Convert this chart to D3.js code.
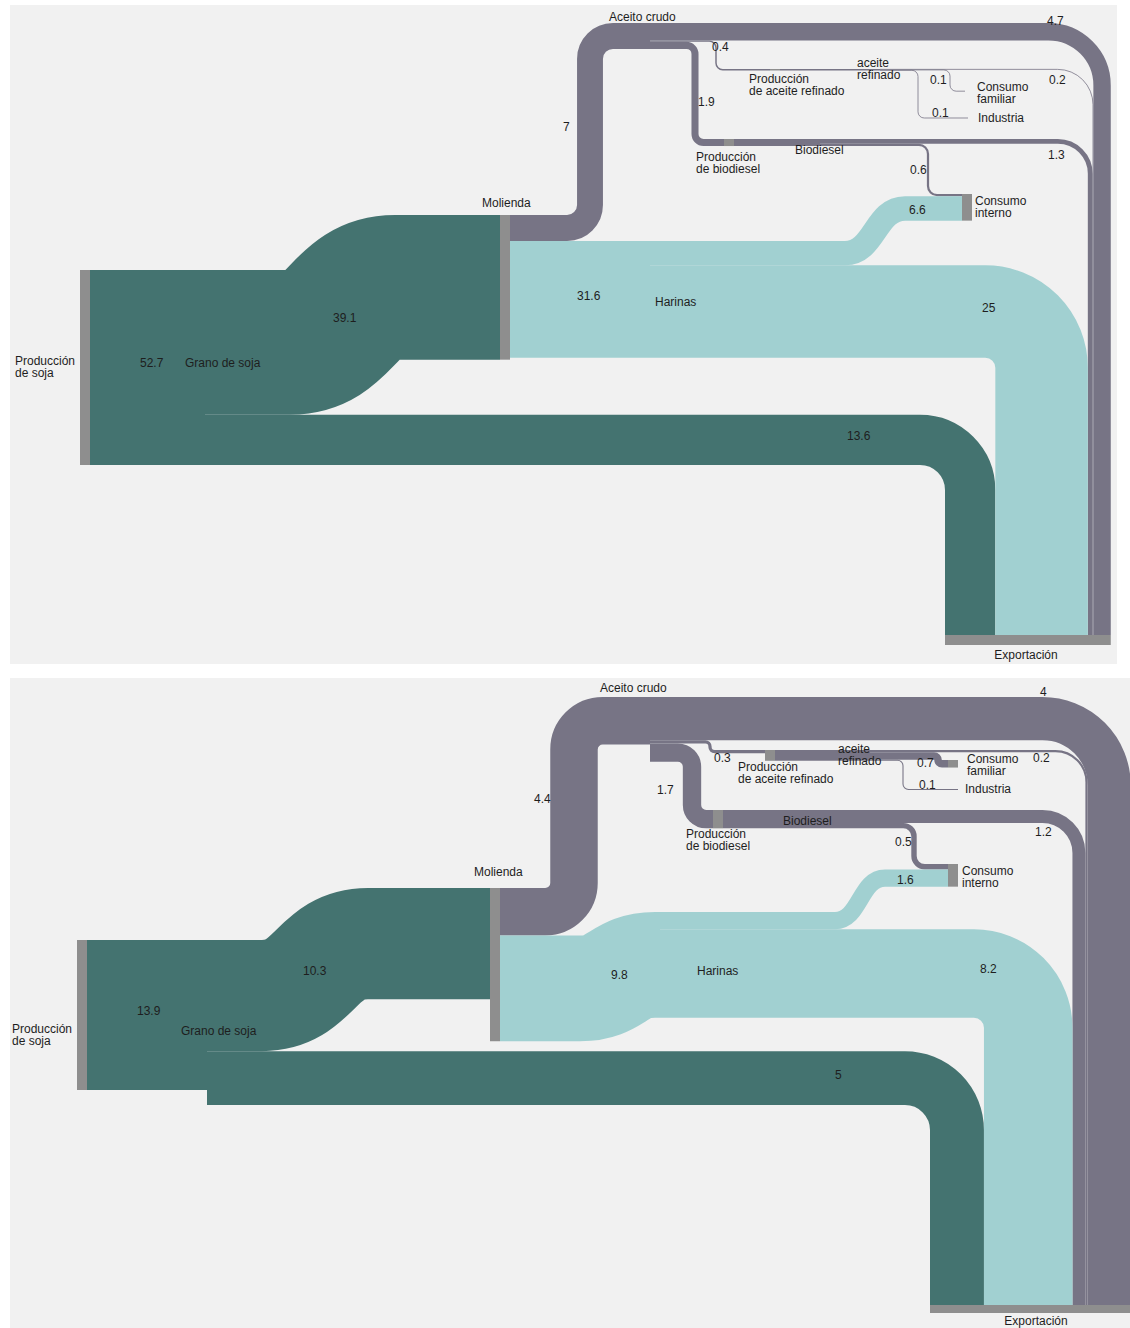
<!DOCTYPE html>
<html lang="es">
<head>
<meta charset="UTF-8">
<title>Complejo sojero - flujos</title>
<script src="https://d3js.org/d3.v7.min.js"></script>
<style>
body { margin: 0; background: #fff; }
svg text { font: 12px "Liberation Sans", Arial, sans-serif; fill: #1e1e1e; }
</style>
</head>
<body>
<svg id="chart" width="1130" height="1328"></svg>
<script>
// ---- data ----
var nodeIds = ["prod", "grano", "molienda", "aceite", "harinas", "prodRef", "refinado",
               "familiar", "industria", "prodBio", "biodiesel", "consumo", "export"];
var nodeNames = ["Producción\nde soja", "Grano de soja", "Molienda", "Aceito crudo", "Harinas",
                 "Producción\nde aceite refinado", "aceite\nrefinado", "Consumo\nfamiliar", "Industria",
                 "Producción\nde biodiesel", "Biodiesel", "Consumo\ninterno", "Exportación"];

var linkSource = ["prod", "grano", "grano", "molienda", "molienda", "aceite", "aceite", "aceite",
                  "prodRef", "refinado", "refinado", "refinado", "prodBio", "biodiesel", "biodiesel",
                  "harinas", "harinas"];
var linkTarget = ["grano", "molienda", "export", "aceite", "harinas", "export", "prodRef", "prodBio",
                  "refinado", "export", "familiar", "industria", "biodiesel", "export", "consumo",
                  "consumo", "export"];
var linkGroup = ["grano", "grano", "grano", "aceite", "harinas", "aceite", "aceite", "aceite",
                 "aceite", "aceite", "aceite", "aceite", "aceite", "aceite", "aceite",
                 "harinas", "harinas"];
// link values, upper and lower diagram
var valuesTop    = [52.7, 39.1, 13.6, 7, 31.6, 4.7, 0.4, 1.9, 0.4, 0.2, 0.1, 0.1, 1.9, 1.3, 0.6, 6.6, 25];
var valuesBottom = [13.9, 10.3, 5, 4.4, 9.8, 4, 0.3, 1.7, 1.0, 0.2, 0.7, 0.1, 1.7, 1.2, 0.5, 1.6, 8.2];
// which link values get a label
var showValue = [1, 1, 1, 1, 1, 1, 1, 1, 0, 1, 1, 1, 0, 1, 1, 1, 1];

var color = { grano: "#447370", harinas: "#a1d0d1", aceite: "#777485" };

// ---- layout of each diagram ----
var panels = [
  {
    values: valuesTop,
    box: [10, 5, 1107, 659],
    scale: [52.7, 195],
    nodes: {
      prod: {x: 80, y: 270, show: true},
      grano: {x: 205},
      molienda: {x: 500, y: 215, show: true},
      aceite: {x: 650, y: 23},
      harinas: {x: 650},
      prodRef: {x: 770, y: 69, show: true},
      refinado: {x: 880},
      familiar: {x: 965, y: 91},
      industria: {x: 968, y: 117.8},
      prodBio: {x: 724, y: 139, show: true},
      biodiesel: {x: 820},
      consumo: {x: 962, y: 194, show: true},
      export: {x: 945, y: 635, horizontal: true, bar: 10, show: true}
    },
    routes: [
      {type: "flat"}, {type: "s", xa: 290, xb: 395}, {type: "down", rin: 25},
      {type: "elbow", xv: 590, rin: 10}, {type: "flat"}, {type: "down", rin: 45},
      {type: "elbow", xv: 716, rin: 6}, {type: "elbow", xv: 695, rin: 5}, {type: "flat"},
      {type: "down", rin: 35}, {type: "elbow", xv: 950, rin: 6}, {type: "elbow", xv: 918, rin: 6},
      {type: "flat"}, {type: "down", rin: 30}, {type: "elbow", xv: 928, rin: 8},
      {type: "s", xa: 845, xb: 905}, {type: "down", rin: 10}
    ],
    valueLabels: [[140, 367], [333, 322], [847, 440], [563, 131], [577, 300], [1047, 25],
                  [712, 51], [698, 106], null, [1049, 84], [930, 84], [932, 117], null,
                  [1048, 159], [910, 174], [909, 214], [982, 312]],
    nodeLabels: {
      prod: [15, 365], grano: [185, 367], molienda: [482, 207], aceite: [609, 21],
      harinas: [655, 306], prodRef: [749, 83], refinado: [857, 67], familiar: [977, 91],
      industria: [978, 122], prodBio: [696, 161], biodiesel: [795, 154], consumo: [975, 205],
      export: [1026, 659, "middle"]
    }
  },
  {
    values: valuesBottom,
    box: [10, 678, 1120, 650],
    scale: [13.9, 150],
    nodes: {
      prod: {x: 77, y: 940, show: true},
      grano: {x: 207},
      molienda: {x: 490, y: 888, show: true},
      aceite: {x: 650, y: 697},
      harinas: {x: 660, y: 912},
      prodRef: {x: 765, y: 750, show: true},
      refinado: {x: 870},
      familiar: {x: 948, y: 760, show: true},
      industria: {x: 958, y: 789},
      prodBio: {x: 713, y: 810, show: true},
      biodiesel: {x: 800},
      consumo: {x: 948, y: 864, show: true},
      export: {x: 930, y: 1305, horizontal: true, bar: 8, show: true}
    },
    routes: [
      {type: "flat"}, {type: "s", xa: 262, xb: 368}, {type: "down", rin: 25},
      {type: "elbow", xv: 574, rin: 5}, {type: "s", xa: 580, xb: 655}, {type: "down", rin: 45},
      {type: "elbow", xv: 710, rin: 3}, {type: "elbow", xv: 692, rin: 5}, {type: "flat"},
      {type: "down", rin: 30}, {type: "elbow", xv: 938, rin: 3}, {type: "elbow", xv: 903, rin: 5},
      {type: "flat"}, {type: "down", rin: 30}, {type: "elbow", xv: 914, rin: 8},
      {type: "s", xa: 835, xb: 885}, {type: "down", rin: 10}
    ],
    valueLabels: [[137, 1015], [303, 975], [835, 1079], [534, 803], [611, 979], [1040, 696],
                  [714, 762], [657, 794], null, [1033, 762], [917, 767], [919, 789], null,
                  [1035, 836], [895, 846], [897, 884], [980, 973]],
    nodeLabels: {
      prod: [12, 1033], grano: [181, 1035], molienda: [474, 876], aceite: [600, 692],
      harinas: [697, 975], prodRef: [738, 771], refinado: [838, 753], familiar: [967, 763],
      industria: [965, 793], prodBio: [686, 838], biodiesel: [783, 825], consumo: [962, 875],
      export: [1036, 1325, "middle"]
    }
  }
];

var svg = d3.select("#chart");

panels.forEach(function(p) {
  var k = d3.scaleLinear().domain([0, p.scale[0]]).range([0, p.scale[1]]);
  var g = svg.append("g");

  g.append("rect")
    .attr("x", p.box[0]).attr("y", p.box[1])
    .attr("width", p.box[2]).attr("height", p.box[3])
    .attr("fill", "#f1f1f1");

  var links = linkSource.map(function(s, i) {
    return {i: i, source: s, target: linkTarget[i], value: p.values[i],
            w: k(p.values[i]), group: linkGroup[i], route: p.routes[i]};
  });

  // place nodes in order, stacking links at each end
  var nodes = {};
  nodeIds.forEach(function(id, j) {
    var L = p.nodes[id];
    var n = {id: id, name: nodeNames[j], x: L.x, y0: L.y, show: L.show,
             horizontal: L.horizontal, bar: L.bar};
    nodes[id] = n;
    var ins = links.filter(function(l) { return l.target === id; });
    var outs = links.filter(function(l) { return l.source === id; });
    n.w = (L.show && !L.horizontal) ? 10 : 0;
    if (n.horizontal) {
      ins.sort(function(a, b) { return b.sy - a.sy; });
      var x = n.x;
      ins.forEach(function(l) { l.tx = x + l.w / 2; x += l.w; });
      n.len = x - n.x;
      return;
    }
    if (L.y == null) n.y0 = ins[0].sy - ins[0].w / 2;
    n.h = k(Math.max(d3.sum(ins, function(l) { return l.value; }),
                     d3.sum(outs, function(l) { return l.value; })));
    var y = n.y0;
    ins.forEach(function(l) { l.ty = y + l.w / 2; y += l.w; });
    y = n.y0;
    outs.forEach(function(l) { l.sy = y + l.w / 2; y += l.w; });
  });

  function linkPath(l) {
    var s = nodes[l.source], t = nodes[l.target], r = l.route;
    var x0 = s.x + s.w, x1 = t.x, sy = l.sy, ty = l.ty;
    var path = d3.path(), rad;
    path.moveTo(x0, sy);
    if (r.type === "down") {
      rad = l.w / 2 + r.rin;
      path.arcTo(l.tx, sy, l.tx, t.y0, rad);
      path.lineTo(l.tx, t.y0);
    } else if (r.type === "elbow") {
      rad = Math.min(l.w / 2 + r.rin, Math.abs(ty - sy) / 2);
      path.arcTo(r.xv, sy, r.xv, ty, rad);
      path.arcTo(r.xv, ty, x1, ty, rad);
      path.lineTo(x1, ty);
    } else if (Math.abs(ty - sy) < 0.5) {
      path.lineTo(x1, ty);
    } else {
      var xm = (r.xa + r.xb) / 2;
      path.lineTo(r.xa, sy);
      path.bezierCurveTo(xm, sy, xm, ty, r.xb, ty);
      path.lineTo(x1, ty);
    }
    return path.toString();
  }

  g.append("g")
    .selectAll("path")
    .data(links)
    .join("path")
      .attr("d", linkPath)
      .attr("fill", "none")
      .attr("stroke", function(d) { return color[d.group]; })
      .attr("stroke-width", function(d) { return Math.max(d.w, 0.8); });

  var shown = nodeIds.map(function(id) { return nodes[id]; }).filter(function(n) { return n.show; });
  g.append("g")
    .selectAll("rect")
    .data(shown)
    .join("rect")
      .attr("x", function(d) { return d.x; })
      .attr("y", function(d) { return d.y0; })
      .attr("width", function(d) { return d.horizontal ? d.len : d.w; })
      .attr("height", function(d) { return d.horizontal ? d.bar : d.h; })
      .attr("fill", "#8e8e8e");

  // value labels
  links.forEach(function(l) {
    var pos = p.valueLabels[l.i];
    if (!showValue[l.i] || !pos) return;
    g.append("text").attr("x", pos[0]).attr("y", pos[1]).text(String(l.value));
  });

  // node labels
  nodeIds.forEach(function(id, j) {
    var pos = p.nodeLabels[id];
    var t = g.append("text")
      .attr("x", pos[0]).attr("y", pos[1])
      .attr("text-anchor", pos[2] || "start");
    nodeNames[j].split("\n").forEach(function(line, m) {
      t.append("tspan").attr("x", pos[0]).attr("dy", m ? 12 : 0).text(line);
    });
  });
});
</script>
</body>
</html>
